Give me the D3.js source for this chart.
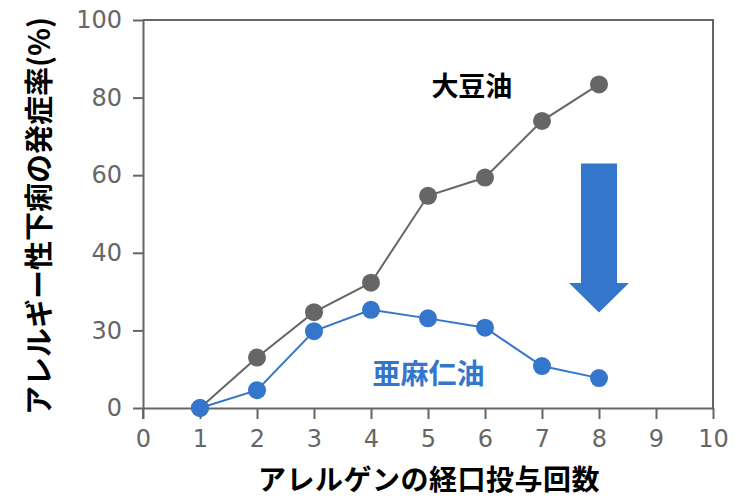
<!DOCTYPE html>
<html lang="ja">
  <head>
    <meta charset="utf-8">
    <title>アレルゲンの経口投与回数と発症率</title>
    <script src="https://cdn.jsdelivr.net/npm/d3@7"></script>
    <style>
      body { margin: 0; background: #fff; }
      text { font-family: "Noto Sans CJK JP", "Noto Sans", sans-serif; }
    </style>
  </head>
  <body>
    <script type="text/javascript">
      "use strict";

      // data (y in plot units)
      var doses = [1, 2, 3, 4, 5, 6, 7, 8];
      var soybeanOil = [0, 13.0, 24.7, 32.3, 54.7, 59.4, 74.0, 83.4];
      var linseedOil = [0, 4.6, 19.8, 25.3, 23.1, 20.7, 10.8, 7.7];

      var xTicks = [0, 1, 2, 3, 4, 5, 6, 7, 8, 9, 10];
      var yTicks = [0, 20, 40, 60, 80, 100];
      // the original chart labels the second tick "30"
      var yTickLabels = ["0", "30", "40", "60", "80", "100"];

      var seriesNames = ["大豆油", "亜麻仁油"];
      var xTitle = "アレルゲンの経口投与回数";
      var yTitle = "アレルギー性下痢の発症率(%)";

      // arrow from soybean level down toward linseed level, at dose 8
      var arrowDose = 8, arrowFrom = 63, arrowHeadBase = 32.2, arrowTo = 24.6;

      var grey = "#666666", blue = "#3476cc";

      var width = 750, height = 500;
      var plot = { left: 143, right: 713, top: 20, bottom: 408 };

      var svg = d3.select("body")
        .append("svg")
          .attr("width", width)
          .attr("height", height);

      var x = d3.scaleLinear().domain([0, 10]).range([plot.left, plot.right]);
      var y = d3.scaleLinear().domain([0, 100]).range([plot.bottom, plot.top]);

      // frame: top and right lines
      svg.append("path")
        .attr("d", "M" + x(0) + "," + y(100) + "H" + x(10) + "V" + y(0))
        .attr("fill", "none")
        .attr("stroke", grey)
        .attr("stroke-width", 2);

      // x axis
      var xAxis = svg.append("g")
        .attr("transform", "translate(0," + y(0) + ")")
        .call(d3.axisBottom(x).tickValues(xTicks).tickSize(11).tickPadding(11).tickSizeOuter(0));

      // y axis
      var yAxis = svg.append("g")
        .attr("transform", "translate(" + x(0) + ",0)")
        .call(d3.axisLeft(y).tickValues(yTicks).tickSize(10).tickPadding(11).tickSizeOuter(0)
          .tickFormat(function (d, i) { return yTickLabels[i]; }));

      [xAxis, yAxis].forEach(function (g) {
        g.select(".domain").attr("stroke", grey).attr("stroke-width", 2);
        g.selectAll(".tick line").attr("stroke", grey).attr("stroke-width", 2);
        g.selectAll(".tick text")
          .attr("fill", grey)
          .style("font-family", "'DejaVu Sans', sans-serif")
          .style("font-size", "24px");
      });
      xAxis.selectAll(".tick text").attr("dy", "0.72em");
      // left axis runs down past the corner to the x tick length
      svg.append("line")
        .attr("x1", x(0)).attr("x2", x(0))
        .attr("y1", y(0)).attr("y2", y(0) + 11)
        .attr("stroke", grey).attr("stroke-width", 2);

      // series
      var series = [
        { name: seriesNames[0], values: soybeanOil, color: grey },
        { name: seriesNames[1], values: linseedOil, color: blue }
      ];

      var line = d3.line()
        .x(function (d, i) { return x(doses[i]); })
        .y(function (d) { return y(d); });

      series.forEach(function (s) {
        svg.append("path")
          .datum(s.values)
          .attr("d", line)
          .attr("fill", "none")
          .attr("stroke", s.color)
          .attr("stroke-width", 2);
      });
      series.forEach(function (s) {
        svg.selectAll(null)
          .data(s.values)
          .enter()
          .append("circle")
            .attr("cx", function (d, i) { return x(doses[i]); })
            .attr("cy", function (d) { return y(d); })
            .attr("r", 9)
            .attr("fill", s.color);
      });

      // series labels
      svg.append("text")
        .attr("x", x(5.77)).attr("y", y(83.5))
        .attr("text-anchor", "middle")
        .attr("dominant-baseline", "central")
        .style("font-size", "27px")
        .style("font-weight", "bold")
        .attr("fill", "#000")
        .text(seriesNames[0]);

      svg.append("text")
        .attr("x", x(5.01)).attr("y", y(9.3))
        .attr("text-anchor", "middle")
        .attr("dominant-baseline", "central")
        .style("font-size", "28px")
        .style("font-weight", "bold")
        .attr("fill", blue)
        .text(seriesNames[1]);

      // big down arrow
      var ax = x(arrowDose), shaftHalf = 18, headHalf = 30;
      svg.append("path")
        .attr("d", [
          "M", ax - shaftHalf, y(arrowFrom),
          "H", ax + shaftHalf,
          "V", y(arrowHeadBase),
          "H", ax + headHalf,
          "L", ax, y(arrowTo),
          "L", ax - headHalf, y(arrowHeadBase),
          "H", ax - shaftHalf, "Z"
        ].join(" "))
        .attr("fill", blue);

      // axis titles
      svg.append("text")
        .attr("x", 429).attr("y", 478)
        .attr("text-anchor", "middle")
        .attr("dominant-baseline", "central")
        .style("font-size", "28px")
        .style("letter-spacing", "0.5px")
        .style("font-weight", "bold")
        .attr("fill", "#000")
        .text(xTitle);

      svg.append("text")
        .attr("transform", "translate(37,216) rotate(-90)")
        .attr("text-anchor", "middle")
        .attr("dominant-baseline", "central")
        .style("font-size", "29px")
        .style("font-weight", "bold")
        .attr("fill", "#000")
        .text(yTitle);
    </script>
  </body>
</html>
